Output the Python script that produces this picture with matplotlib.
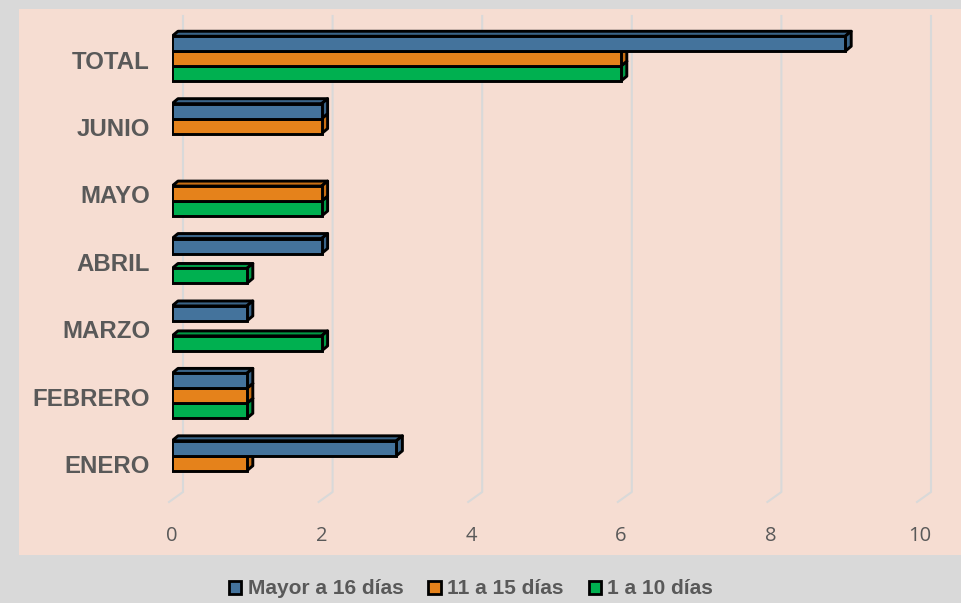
import matplotlib.pyplot as plt
import numpy as np
from matplotlib.patches import Polygon, Rectangle, Patch

# data
meses = ['ENERO', 'FEBRERO', 'MARZO', 'ABRIL', 'MAYO', 'JUNIO', 'TOTAL']
mayor_16 = [3, 1, 1, 2, 0, 2, 9]
de_11_15 = [1, 1, 0, 0, 2, 2, 6]
de_1_10 = [0, 1, 2, 1, 2, 0, 6]
series_names = ['Mayor a 16 días', '11 a 15 días', '1 a 10 días']
x_ticks = [0, 2, 4, 6, 8, 10]

colors = ['#44739c', '#e5821b', '#00b050']
tops = ['#3a6488', '#c86f14', '#009a45']
gray_txt = '#595959'

W, H = 961, 603
fig = plt.figure(figsize=(W / 100, H / 100), dpi=100, facecolor='#d9d9d9')
fig.patches.append(Rectangle((19 / W, 1 - 555 / H), (W - 19) / W, (555 - 9) / H,
                             transform=fig.transFigure, facecolor='#f6ddd2',
                             edgecolor='none', zorder=-10))

ax_l, ax_r, ax_t, ax_b = 172, 920, 25, 497
ax = fig.add_axes([ax_l / W, 1 - ax_b / H, (ax_r - ax_l) / W, (ax_b - ax_t) / H])
ax.set_facecolor('none')
ax.set_xlim(0, 10)
ax.set_ylim(-0.5, 6.5)
for s in ax.spines.values():
    s.set_visible(False)

px_x = 10 / (ax_r - ax_l)
px_y = 7 / (ax_b - ax_t)
dx, dy = 6 * px_x, 5 * px_y

# back-wall gridlines with floor corner
for v in x_ticks:
    gx = v + 11 * px_x
    ax.plot([gx, gx, v - 3 * px_x], [6.5 + 9 * px_y, -0.5 + 5 * px_y, -0.5 - 5 * px_y],
            color='#d9d9d9', lw=1.5, clip_on=False, zorder=1)

h = 0.222
lw = 2.1
offsets = [h, 0, -h]
series = [mayor_16, de_11_15, de_1_10]
z = 2
# draw bottom series first so upper bars cover their top faces
for k in [2, 1, 0]:
    for i, v in enumerate(series[k]):
        if v == 0:
            continue
        y0 = i + offsets[k] - h / 2
        y1 = y0 + h
        top = Polygon([(0, y1), (dx, y1 + dy), (v + dx, y1 + dy), (v, y1)],
                      facecolor=tops[k], edgecolor='black', lw=lw, zorder=z,
                      joinstyle='round')
        side = Polygon([(v, y0), (v + dx, y0 + dy), (v + dx, y1 + dy), (v, y1)],
                       facecolor=tops[k], edgecolor='black', lw=lw, zorder=z,
                       joinstyle='round')
        ax.add_patch(top)
        ax.add_patch(side)
        ax.barh(y0 + h / 2, v, height=h, color=colors[k], edgecolor='black',
                lw=lw, zorder=z + 0.5)
        z += 1

ax.set_xticks(x_ticks)
ax.set_xticklabels([str(t) for t in x_ticks], fontsize=14.5, color=gray_txt,
                   family='Open Sans')
ax.tick_params(axis='x', length=0, pad=21)
ax.set_yticks([])

ytr = ax.get_yaxis_transform()
for i, m in enumerate(meses):
    ax.text(-22 / (ax_r - ax_l), i - 0.05, m, transform=ytr, ha='right', va='center',
            fontsize=17.3, fontweight='bold', color=gray_txt, family='Liberation Sans')

handles = [Patch(facecolor=c, edgecolor='black', lw=2.0) for c in colors]
leg = fig.legend(handles, series_names, loc='center', ncol=3,
                 bbox_to_anchor=(471 / W, 1 - 589 / H), frameon=False,
                 handlelength=0.6, handleheight=0.6, handletextpad=0.3,
                 columnspacing=1.2,
                 prop={'family': 'Liberation Sans', 'weight': 'bold', 'size': 15})
for t in leg.get_texts():
    t.set_color(gray_txt)

fig.savefig('out.png', dpi=100, facecolor=fig.get_facecolor())
